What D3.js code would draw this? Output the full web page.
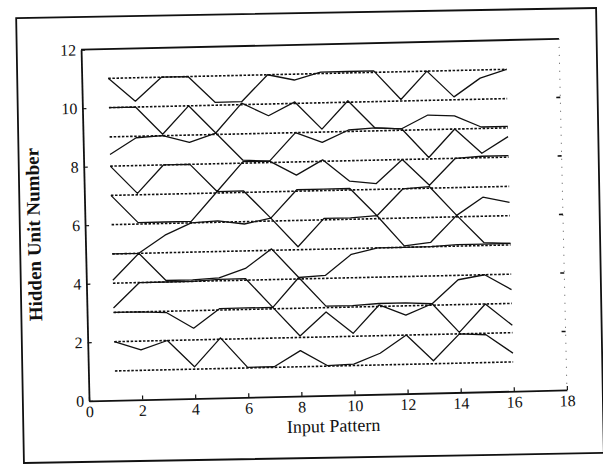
<!DOCTYPE html>
<html>
<head>
<meta charset="utf-8">
<script src="https://cdn.jsdelivr.net/npm/d3@7"></script>
<style>
  body { margin: 0; background: #fff; }
  text { font-family: "Liberation Serif", "Times New Roman", serif; fill: #111; }
</style>
</head>
<body>
<svg id="chart"></svg>
<script>
// input patterns on the x axis
var inputPattern = [1, 2, 3, 4, 5, 6, 7, 8, 9, 10, 11, 12, 13, 14, 15, 16];

// hidden unit traces, unit k sits between k and k+1
var unit1  = [2.0, 1.7, 2.0, 1.08, 2.05, 1.02, 1.02, 1.55, 1.02, 1.05, 1.4, 2.0, 1.1, 2.0, 1.95, 1.3];
var unit2  = [3.0, 3.0, 2.95, 2.4, 3.05, 3.05, 3.05, 2.05, 2.85, 2.1, 3.05, 2.68, 3.05, 2.05, 3.0, 2.25];
var unit3  = [3.15, 4.0, 4.0, 4.0, 4.05, 4.05, 3.05, 4.05, 3.05, 3.05, 3.1, 3.1, 3.05, 3.85, 4.0, 3.47];
var unit4  = [4.1, 5.0, 4.05, 4.05, 4.1, 4.4, 5.05, 4.05, 4.1, 4.8, 5.0, 5.0, 5.0, 5.05, 5.05, 5.05];
var unit5  = [5.0, 5.0, 5.6, 6.0, 6.05, 5.92, 6.1, 5.1, 6.05, 6.05, 6.1, 5.05, 5.15, 6.05, 5.1, 5.05];
var unit6  = [7.0, 6.05, 6.05, 6.05, 7.05, 7.05, 6.1, 7.05, 7.05, 7.05, 6.1, 7.0, 7.05, 6.05, 6.65, 6.45];
var unit7  = [8.0, 7.05, 8.0, 8.0, 7.05, 8.05, 8.05, 7.55, 8.05, 7.3, 7.2, 8.0, 7.1, 8.0, 8.05, 8.05];
var unit8  = [8.4, 8.95, 9.0, 8.75, 9.05, 8.1, 8.05, 9.0, 8.65, 9.05, 9.1, 9.05, 8.05, 9.0, 8.15, 8.7];
var unit9  = [10.0, 10.0, 9.05, 10.0, 9.05, 10.05, 9.6, 10.05, 9.1, 10.05, 9.1, 9.05, 9.5, 9.45, 9.05, 9.05];
var unit10 = [11.0, 10.2, 11.0, 11.0, 10.1, 10.1, 11.0, 10.8, 11.05, 11.05, 11.05, 10.05, 11.0, 10.1, 10.72, 11.0];

// dotted zero lines, one per unit
var baselines = [1, 2, 3, 4, 5, 6, 7, 8, 9, 10, 11];

var xTicks = [0, 2, 4, 6, 8, 10, 12, 14, 16, 18];
var yTicks = [0, 2, 4, 6, 8, 10, 12];
var rightTicks = [2, 4, 6, 8, 10];

var width = 603,
    height = 472;

var svg = d3.select("#chart")
    .attr("width", width)
    .attr("height", height);

// outer frame of the scanned page
svg.append("rect")
    .attr("x", 20).attr("y", 13)
    .attr("width", 580).attr("height", 445)
    .attr("fill", "none")
    .attr("stroke", "#111")
    .attr("stroke-width", 1.8)
    .attr("transform", "rotate(-1,310,235)");

// the scan is a bit tilted, so the whole plot gets a small rotation
var g = svg.append("g")
    .attr("transform", "rotate(-1.3,326,220)");

var x = d3.scaleLinear().domain([0, 18]).range([85, 563]);
var y = d3.scaleLinear().domain([0, 12]).range([395.4, 44.2]);

var xAxis = d3.axisBottom(x)
    .tickValues(xTicks)
    .tickSize(-4)
    .tickSizeOuter(0)
    .tickPadding(5);

var yAxis = d3.axisLeft(y)
    .tickValues(yTicks)
    .tickSize(-4)
    .tickSizeOuter(0)
    .tickPadding(5);

var gx = g.append("g")
    .attr("transform", "translate(0," + y(0) + ")")
    .call(xAxis);

var gy = g.append("g")
    .attr("transform", "translate(" + x(0) + ",0)")
    .call(yAxis);

[gx, gy].forEach(function(a) {
    a.select(".domain").attr("stroke", "#111").attr("stroke-width", 1.8);
    a.selectAll(".tick line").attr("stroke", "#111").attr("stroke-width", 1.2);
    a.selectAll(".tick text")
        .style("font-family", "'Liberation Serif', 'Times New Roman', serif")
        .style("font-size", "16px")
        .attr("fill", "#111");
});

// top border
g.append("line")
    .attr("x1", x(0)).attr("x2", x(18))
    .attr("y1", y(12)).attr("y2", y(12))
    .attr("stroke", "#111")
    .attr("stroke-width", 1.8);

// right border is faint in the scan
g.append("line")
    .attr("x1", x(18)).attr("x2", x(18))
    .attr("y1", y(12)).attr("y2", y(0))
    .attr("stroke", "#555")
    .attr("stroke-width", 1)
    .attr("stroke-dasharray", "1,7");

g.selectAll(".rtick")
    .data(rightTicks)
    .enter().append("line")
    .attr("class", "rtick")
    .attr("x1", x(18) - 4).attr("x2", x(18))
    .attr("y1", function(d) { return y(d); })
    .attr("y2", function(d) { return y(d); })
    .attr("stroke", "#111")
    .attr("stroke-width", 1.6);

// dotted baselines
g.selectAll(".base")
    .data(baselines)
    .enter().append("line")
    .attr("class", "base")
    .attr("x1", x(inputPattern[0]))
    .attr("x2", x(inputPattern[inputPattern.length - 1]))
    .attr("y1", function(d) { return y(d); })
    .attr("y2", function(d) { return y(d); })
    .attr("stroke", "#111")
    .attr("stroke-width", 1.6)
    .attr("stroke-dasharray", "2.5,1.6");

var units = [unit1, unit2, unit3, unit4, unit5, unit6, unit7, unit8, unit9, unit10];

var line = d3.line()
    .x(function(d, i) { return x(inputPattern[i]); })
    .y(function(d) { return y(d); });

g.selectAll(".unit")
    .data(units)
    .enter().append("path")
    .attr("class", "unit")
    .attr("d", line)
    .attr("fill", "none")
    .attr("stroke", "#111")
    .attr("stroke-width", 1.3)
    .attr("stroke-linejoin", "round");

// axis titles
g.append("text")
    .attr("x", (x(0) + x(18)) / 2 + 5)
    .attr("y", 432)
    .attr("text-anchor", "middle")
    .style("font-size", "18px")
    .text("Input Pattern");

g.append("text")
    .attr("transform", "translate(40,228) rotate(-90)")
    .attr("text-anchor", "middle")
    .style("font-size", "19px")
    .style("font-weight", "bold")
    .text("Hidden Unit Number");
</script>
</body>
</html>
